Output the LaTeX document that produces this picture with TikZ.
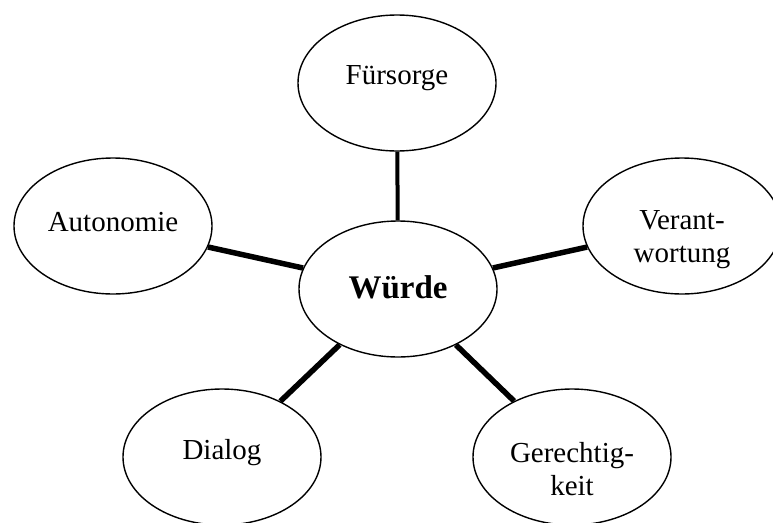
\documentclass[tikz,border=0pt]{standalone}
\usepackage{fontspec}
\setmainfont{Liberation Serif}
\usetikzlibrary{shapes.geometric}
\begin{document}
\begin{tikzpicture}[x=1pt,y=-1pt,
  bubble/.style={ellipse,draw=black,line width=1.4pt,minimum width=198pt,minimum height=136pt,inner sep=0pt},
  lbl/.style={font=\fontsize{29}{33}\selectfont,align=center,inner sep=0pt},
  link/.style={line width=5.5pt,black}]
\useasboundingbox (0,0) rectangle (773,522);
\node[bubble] (w) at (398,289) {};
\node[bubble] (f) at (397,83) {};
\node[bubble] (a) at (113,226) {};
\node[bubble] (v) at (682,226) {};
\node[bubble] (d) at (222,457) {};
\node[bubble] (g) at (572,457) {};
\node[lbl,font=\fontsize{33}{33}\selectfont\bfseries] (tw) at (398,287) {Würde};
\node[lbl] (tf) at (397,78) {Fürsorge};
\node[lbl] (ta) at (113,222) {Autonomie};
\node[lbl] (tv) at (682,240) {Verant-\\wortung};
\node[lbl] (td) at (222,453) {Dialog};
\node[lbl] (tg) at (572,469) {Gerechtig-\\keit};
\draw[link,line width=4pt] (w) -- (f);
\draw[link] (w) -- (a);
\draw[link] (w) -- (v);
\draw[link] (w) -- (d);
\draw[link] (w) -- (g);
\end{tikzpicture}
\end{document}
